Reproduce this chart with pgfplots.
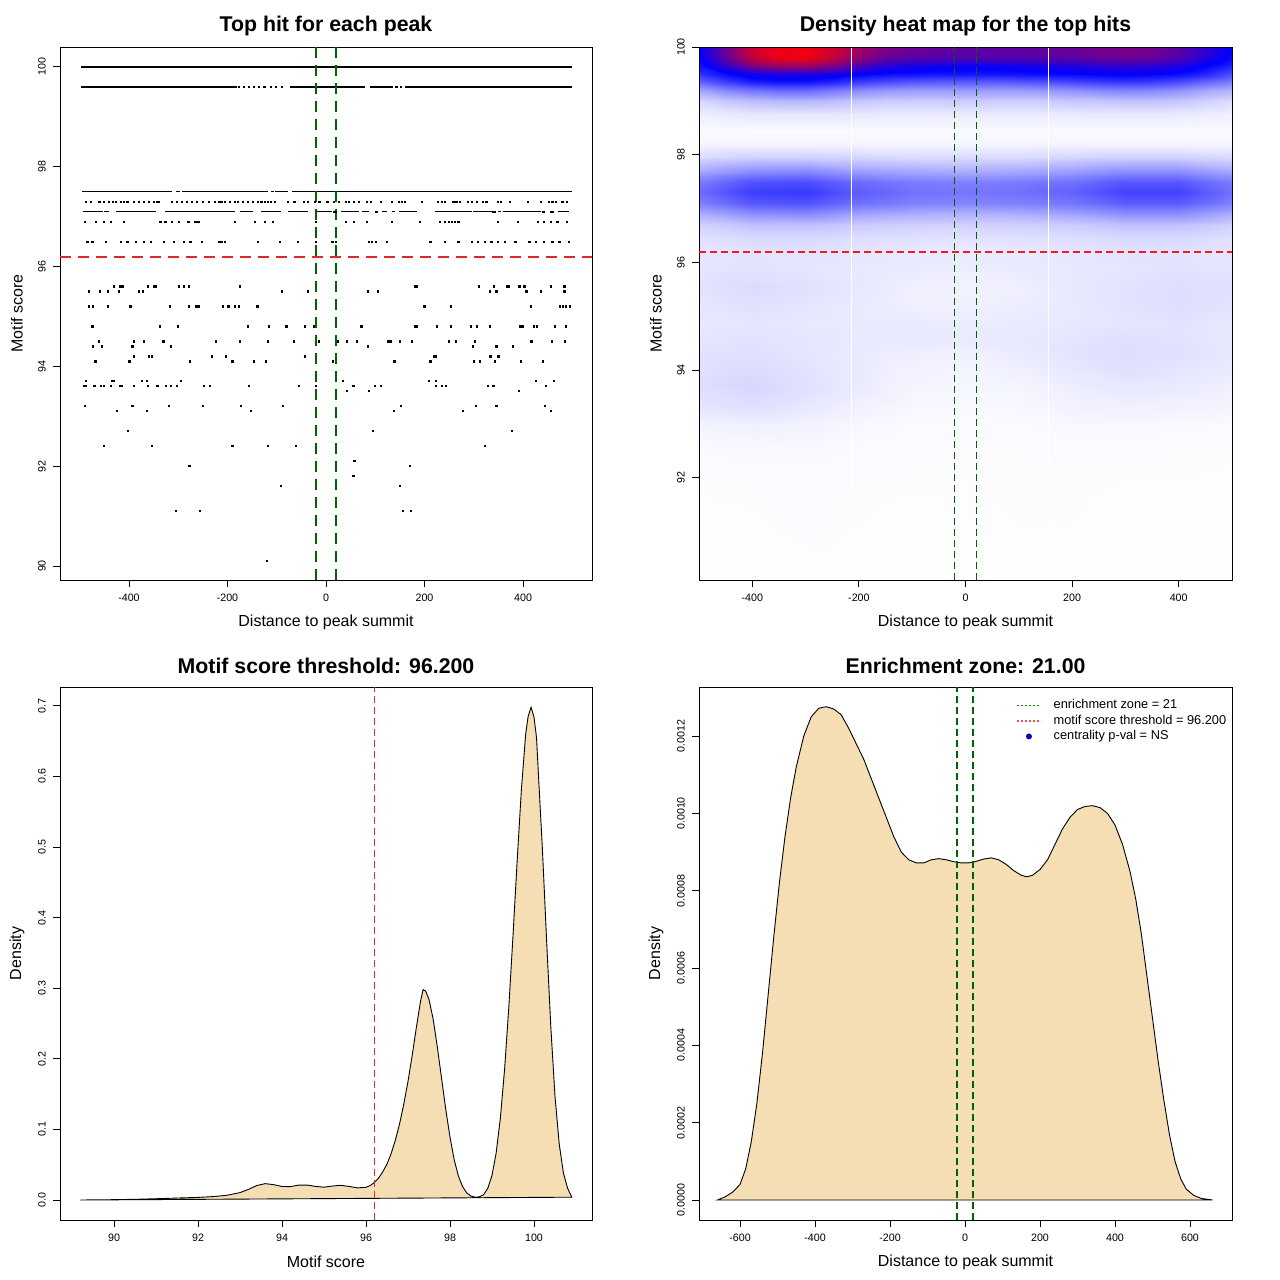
\documentclass[border=0pt]{standalone}
\usepackage{fontspec}
\setmainfont{Liberation Sans}
\usepackage{pgfplots}
\pgfplotsset{compat=1.18}
\definecolor{dgreen}{RGB}{0,100,0}
\definecolor{lgreen}{RGB}{0,140,0}
\definecolor{rred}{RGB}{222,40,40}
\definecolor{hred}{RGB}{238,28,28}
\definecolor{lred}{RGB}{224,44,44}
\definecolor{legred}{RGB}{240,80,80}
\definecolor{wheat}{RGB}{245,222,179}
\pgfplotsset{
 rpanel/.style={
  scale only axis, width=532pt, height=533pt,
  axis line style={draw=black, line width=0.9pt},
  tick align=outside, major tick length=7pt,
  tick style={draw=black, line width=0.9pt},
  tick pos=left,
  ticklabel style={font=\fontsize{10.7}{12}\selectfont},
  /pgf/number format/assume math mode=true,
  xticklabel style={anchor=center, yshift=-11pt},
  yticklabel style={anchor=center, xshift=-11pt, rotate=90},
  every axis x label/.style={at={(axis description cs:0.5,0)}, anchor=center, yshift=-42pt, font=\fontsize{16}{19}\selectfont},
  every axis y label/.style={at={(axis description cs:0,0.5)}, anchor=center, xshift=-43pt, rotate=90, font=\fontsize{16}{19}\selectfont},
  every axis title/.style={at={(axis description cs:0.5,1)}, anchor=center, yshift=21pt, font=\bfseries\fontsize{21.3}{25}\selectfont},
 },
}
\begin{document}
\begin{tikzpicture}[x=1pt,y=1pt]
\useasboundingbox (0,0) rectangle (1280,1280);
% ---------------- top left
\begin{axis}[rpanel, at={(60pt,700pt)}, anchor=south west,
 xmin=-540, xmax=540, ymin=89.72, ymax=100.4,
 xtick={-400,-200,0,200,400}, ytick={90,92,94,96,98,100},
 title={Top hit for each peak}, xlabel={Distance to peak summit}, ylabel={Motif score}]
\addplot[draw=black, line width=1.45pt, unbounded coords=jump] coordinates {
 (-497,100) (500,100)
 (0,nan) (-497,99.6) (-181,99.6) (0,nan) (-73,99.6) (80,99.6) (0,nan) (89,99.6) (136,99.6) (0,nan) (160,99.6) (500,99.6)
 (0,nan) (-495,97.5) (-312,97.5) (0,nan) (-304,97.5) (-296,97.5) (0,nan) (-292,97.5) (-117,97.5) (0,nan) (-112,97.5) (-106,97.5) (0,nan) (-103,97.5) (-77,97.5) (0,nan) (-70,97.5) (500,97.5)
 (0,nan) (-494,97.1) (-453,97.1) (0,nan) (-450,97.1) (-440,97.1) (0,nan) (-427,97.1) (-346,97.1) (0,nan) (-326,97.1) (-185,97.1) (0,nan) (-175,97.1) (-148,97.1) (0,nan) (-131,97.1) (-91,97.1) (0,nan) (-77,97.1) (-37,97.1) (0,nan) (-23,97.1) (13,97.1) (0,nan) (30,97.1) (67,97.1) (0,nan) (74,97.1) (87,97.1) (0,nan) (114,97.1) (124,97.1) (0,nan) (134,97.1) (141,97.1) (0,nan) (148,97.1) (185,97.1) (0,nan) (222,97.1) (296,97.1) (0,nan) (299,97.1) (336,97.1) (0,nan) (349,97.1) (356,97.1) (0,nan) (359,97.1) (437,97.1) (0,nan) (470,97.1) (494,97.1)};
\addplot[only marks, mark=square*, mark size=0.6pt, mark options={draw=black, fill=black, line width=0pt}] coordinates {
 (-177,99.6) (-167,99.6) (-157,99.6) (-146,99.6) (-136,99.6) (-125,99.6) (-111,99.6) (-101,99.6) (-90,99.6) (143,99.6) (153,99.6)
 (17,97.1) (20,97.1) (101,97.1) (104,97.1) (339,97.1) (343,97.1) (440,97.1) (443,97.1) (457,97.1) (460,97.1)
 (-487,97.3) (-477,97.3) (-460,97.3) (-450,97.3) (-440,97.3) (-433,97.3) (-427,97.3) (-416,97.3) (-410,97.3) (-403,97.3) (-390,97.3) (-380,97.3) (-369,97.3) (-359,97.3) (-349,97.3) (-343,97.3) (-339,97.3) (-312,97.3) (-302,97.3) (-292,97.3) (-282,97.3) (-272,97.3) (-262,97.3) (-249,97.3) (-238,97.3) (-225,97.3) (-218,97.3) (-212,97.3) (-205,97.3) (-195,97.3) (-185,97.3) (-178,97.3) (-168,97.3) (-158,97.3) (-148,97.3) (-138,97.3) (-131,97.3) (-124,97.3) (-118,97.3) (-111,97.3) (-104,97.3) (-77,97.3) (-64,97.3) (-44,97.3) (-37,97.3) (-23,97.3) (-13,97.3) (3,97.3) (17,97.3) (27,97.3) (40,97.3) (47,97.3) (57,97.3) (67,97.3) (84,97.3) (91,97.3) (111,97.3) (134,97.3) (148,97.3) (154,97.3) (161,97.3) (195,97.3) (228,97.3) (235,97.3) (242,97.3) (259,97.3) (265,97.3) (272,97.3) (289,97.3) (296,97.3) (306,97.3) (319,97.3) (326,97.3) (349,97.3) (356,97.3) (373,97.3) (410,97.3) (437,97.3) (453,97.3) (460,97.3) (467,97.3) (480,97.3) (490,97.3)
 (-490,96.9) (-467,96.9) (-450,96.9) (-437,96.9) (-410,96.9) (-336,96.9) (-326,96.9) (-312,96.9) (-299,96.9) (-279,96.9) (-265,96.9) (-259,96.9) (-185,96.9) (-144,96.9) (-124,96.9) (-107,96.9) (-20,96.9) (40,96.9) (57,96.9) (84,96.9) (134,96.9) (191,96.9) (232,96.9) (242,96.9) (249,96.9) (255,96.9) (262,96.9) (269,96.9) (349,96.9) (390,96.9) (430,96.9) (443,96.9) (457,96.9) (470,96.9) (490,96.9)
 (-484,96.5) (-474,96.5) (-447,96.5) (-416,96.5) (-403,96.5) (-386,96.5) (-369,96.5) (-356,96.5) (-329,96.5) (-309,96.5) (-289,96.5) (-275,96.5) (-252,96.5) (-218,96.5) (-212,96.5) (-205,96.5) (-138,96.5) (-94,96.5) (-57,96.5) (-20,96.5) (13,96.5) (20,96.5) (87,96.5) (94,96.5) (101,96.5) (124,96.5) (212,96.5) (242,96.5) (269,96.5) (296,96.5) (309,96.5) (322,96.5) (336,96.5) (349,96.5) (363,96.5) (383,96.5) (386,96.5) (413,96.5) (427,96.5) (443,96.5) (460,96.5) (474,96.5) (494,96.5)
 (-431,95.6) (-417,95.6) (-413,95.6) (-362,95.6) (-349,95.6) (-346,95.6) (-299,95.6) (-289,95.6) (-278,95.6) (-174,95.6) (181,95.6) (185,95.6) (310,95.6) (341,95.6) (367,95.6) (371,95.6) (393,95.6) (403,95.6) (456,95.6) (484,95.6)
 (-481,95.5) (-458,95.5) (-442,95.5) (-421,95.5) (-379,95.5) (-372,95.5) (-89,95.5) (-37,95.5) (86,95.5) (106,95.5) (333,95.5) (346,95.5) (407,95.5) (436,95.5) (484,95.5)
 (-481,95.2) (-473,95.2) (-442,95.2) (-397,95.2) (-317,95.2) (-278,95.2) (-263,95.2) (-259,95.2) (-209,95.2) (-198,95.2) (-184,95.2) (-176,95.2) (-139,95.2) (200,95.2) (254,95.2) (416,95.2) (475,95.2) (481,95.2) (487,95.2) (496,95.2)
 (-474,94.8) (-337,94.8) (-301,94.8) (-159,94.8) (-115,94.8) (-80,94.8) (-42,94.8) (-24,94.8) (72,94.8) (181,94.8) (185,94.8) (225,94.8) (253,94.8) (294,94.8) (306,94.8) (333,94.8) (395,94.8) (400,94.8) (423,94.8) (428,94.8) (465,94.8) (487,94.8)
 (-461,94.5) (-390,94.5) (-370,94.5) (-330,94.5) (-223,94.5) (-174,94.5) (-118,94.5) (-65,94.5) (-14,94.5) (24,94.5) (42,94.5) (63,94.5) (127,94.5) (131,94.5) (151,94.5) (174,94.5) (249,94.5) (264,94.5) (303,94.5) (417,94.5) (459,94.5) (485,94.5)
 (-473,94.4) (-454,94.4) (-393,94.4) (-315,94.4) (86,94.4) (299,94.4) (346,94.4) (379,94.4)
 (-390,94.2) (-360,94.2) (-353,94.2) (-231,94.2) (-203,94.2) (-43,94.2) (219,94.2) (224,94.2) (334,94.2) (350,94.2)
 (-468,94.1) (-399,94.1) (-276,94.1) (-190,94.1) (-146,94.1) (-122,94.1) (14,94.1) (139,94.1) (212,94.1) (301,94.1) (312,94.1) (343,94.1) (396,94.1) (440,94.1)
 (-487,93.7) (-435,93.7) (-431,93.7) (-374,93.7) (-363,93.7) (-294,93.7) (35,93.7) (209,93.7) (224,93.7) (426,93.7) (463,93.7)
 (-492,93.6) (-487,93.6) (-470,93.6) (-456,93.6) (-451,93.6) (-437,93.6) (-417,93.6) (-414,93.6) (-390,93.6) (-362,93.6) (-342,93.6) (-325,93.6) (-314,93.6) (-303,93.6) (-248,93.6) (-235,93.6) (-157,93.6) (-54,93.6) (-21,93.6) (56,93.6) (99,93.6) (111,93.6) (223,93.6) (235,93.6) (244,93.6) (329,93.6) (340,93.6) (447,93.6)
 (42,93.5) (87,93.5) (392,93.5)
 (-489,93.2) (-393,93.2) (-319,93.2) (-250,93.2) (-172,93.2) (-87,93.2) (153,93.2) (305,93.2) (346,93.2) (445,93.2)
 (-424,93.1) (-363,93.1) (-152,93.1) (138,93.1) (278,93.1) (456,93.1)
 (-402,92.7) (96,92.7) (377,92.7)
 (-451,92.4) (-353,92.4) (-190,92.4) (-118,92.4) (-61,92.4) (322,92.4)
 (58,92.1) (-277,92.0) (170,92.0) (56,91.8) (-92,91.6) (151,91.6)
 (-304,91.1) (-255,91.1) (156,91.1) (173,91.1) (-120,90.1)};
\addplot[draw=rred, line width=2pt, dash pattern=on 11pt off 7pt] coordinates {(-540,96.2) (540,96.2)};
\addplot[draw=dgreen, line width=2pt, dash pattern=on 11pt off 7pt] coordinates {(-21,89.72) (-21,100.4)};
\addplot[draw=dgreen, line width=2pt, dash pattern=on 11pt off 7pt] coordinates {(21,89.72) (21,100.4)};
\end{axis}
% ---------------- top right
\begin{axis}[rpanel, at={(699pt,700pt)}, anchor=south west, width=533pt, axis on top,
 xmin=-500, xmax=500, ymin=90.1, ymax=100,
 xtick={-400,-200,0,200,400}, ytick={92,94,96,98,100},
 colormap={wbr}{rgb255=(255,255,255) rgb255=(0,0,255) rgb255=(255,0,0)},
 point meta min=0, point meta max=1,
 title={Density heat map for the top hits}, xlabel={Distance to peak summit}, ylabel={Motif score}]
\addplot[surf, shader=interp, mesh/cols=11, point meta=\thisrow{c}] table[row sep=\\] {
x y c\\
-500 90.1 0.001\\ -400 90.1 0.001\\ -300 90.1 0.001\\ -200 90.1 0.001\\ -100 90.1 0.001\\ 0 90.1 0.001\\ 100 90.1 0.001\\ 200 90.1 0.001\\ 300 90.1 0.001\\ 400 90.1 0.001\\ 500 90.1 0.001\\
-500 91.2 0.003\\ -400 91.2 0.004\\ -300 91.2 0.008\\ -200 91.2 0.005\\ -100 91.2 0.003\\ 0 91.2 0.003\\ 100 91.2 0.005\\ 200 91.2 0.005\\ 300 91.2 0.003\\ 400 91.2 0.003\\ 500 91.2 0.002\\
-500 92.0 0.006\\ -400 92.0 0.007\\ -300 92.0 0.008\\ -200 92.0 0.007\\ -100 92.0 0.006\\ 0 92.0 0.005\\ 100 92.0 0.006\\ 200 92.0 0.006\\ 300 92.0 0.005\\ 400 92.0 0.005\\ 500 92.0 0.004\\
-500 92.6 0.012\\ -400 92.6 0.015\\ -300 92.6 0.014\\ -200 92.6 0.010\\ -100 92.6 0.008\\ 0 92.6 0.006\\ 100 92.6 0.007\\ 200 92.6 0.008\\ 300 92.6 0.008\\ 400 92.6 0.007\\ 500 92.6 0.006\\
-500 93.0 0.025\\ -400 93.0 0.030\\ -300 93.0 0.025\\ -200 93.0 0.015\\ -100 93.0 0.010\\ 0 93.0 0.008\\ 100 93.0 0.010\\ 200 93.0 0.015\\ 300 93.0 0.015\\ 400 93.0 0.012\\ 500 93.0 0.010\\
-500 93.3 0.050\\ -400 93.3 0.060\\ -300 93.3 0.045\\ -200 93.3 0.025\\ -100 93.3 0.015\\ 0 93.3 0.012\\ 100 93.3 0.015\\ 200 93.3 0.025\\ 300 93.3 0.030\\ 400 93.3 0.025\\ 500 93.3 0.020\\
-500 93.7 0.065\\ -400 93.7 0.080\\ -300 93.7 0.060\\ -200 93.7 0.040\\ -100 93.7 0.020\\ 0 93.7 0.018\\ 100 93.7 0.020\\ 200 93.7 0.035\\ 300 93.7 0.045\\ 400 93.7 0.040\\ 500 93.7 0.030\\
-500 94.0 0.060\\ -400 94.0 0.070\\ -300 94.0 0.055\\ -200 94.0 0.040\\ -100 94.0 0.025\\ 0 94.0 0.020\\ 100 94.0 0.030\\ 200 94.0 0.045\\ 300 94.0 0.060\\ 400 94.0 0.050\\ 500 94.0 0.040\\
-500 94.35 0.055\\ -400 94.35 0.060\\ -300 94.35 0.050\\ -200 94.35 0.040\\ -100 94.35 0.035\\ 0 94.35 0.030\\ 100 94.35 0.040\\ 200 94.35 0.055\\ 300 94.35 0.065\\ 400 94.35 0.060\\ 500 94.35 0.045\\
-500 94.6 0.050\\ -400 94.6 0.055\\ -300 94.6 0.050\\ -200 94.6 0.045\\ -100 94.6 0.045\\ 0 94.6 0.040\\ 100 94.6 0.045\\ 200 94.6 0.050\\ 300 94.6 0.060\\ 400 94.6 0.055\\ 500 94.6 0.045\\
-500 94.9 0.045\\ -400 94.9 0.050\\ -300 94.9 0.045\\ -200 94.9 0.040\\ -100 94.9 0.040\\ 0 94.9 0.035\\ 100 94.9 0.040\\ 200 94.9 0.045\\ 300 94.9 0.050\\ 400 94.9 0.055\\ 500 94.9 0.045\\
-500 95.2 0.050\\ -400 95.2 0.060\\ -300 95.2 0.050\\ -200 95.2 0.040\\ -100 95.2 0.030\\ 0 95.2 0.030\\ 100 95.2 0.035\\ 200 95.2 0.045\\ 300 95.2 0.055\\ 400 95.2 0.065\\ 500 95.2 0.055\\
-500 95.55 0.055\\ -400 95.55 0.070\\ -300 95.55 0.060\\ -200 95.55 0.045\\ -100 95.55 0.030\\ 0 95.55 0.025\\ 100 95.55 0.030\\ 200 95.55 0.045\\ 300 95.55 0.055\\ 400 95.55 0.065\\ 500 95.55 0.060\\
-500 95.9 0.050\\ -400 95.9 0.055\\ -300 95.9 0.050\\ -200 95.9 0.045\\ -100 95.9 0.040\\ 0 95.9 0.035\\ 100 95.9 0.040\\ 200 95.9 0.045\\ 300 95.9 0.050\\ 400 95.9 0.055\\ 500 95.9 0.050\\
-500 96.2 0.050\\ -400 96.2 0.055\\ -300 96.2 0.055\\ -200 96.2 0.050\\ -100 96.2 0.045\\ 0 96.2 0.040\\ 100 96.2 0.045\\ 200 96.2 0.050\\ 300 96.2 0.055\\ 400 96.2 0.055\\ 500 96.2 0.050\\
-500 96.45 0.060\\ -400 96.45 0.075\\ -300 96.45 0.075\\ -200 96.45 0.065\\ -100 96.45 0.060\\ 0 96.45 0.055\\ 100 96.45 0.060\\ 200 96.45 0.065\\ 300 96.45 0.075\\ 400 96.45 0.075\\ 500 96.45 0.060\\
-500 96.7 0.090\\ -400 96.7 0.120\\ -300 96.7 0.120\\ -200 96.7 0.100\\ -100 96.7 0.090\\ 0 96.7 0.090\\ 100 96.7 0.090\\ 200 96.7 0.100\\ 300 96.7 0.120\\ 400 96.7 0.120\\ 500 96.7 0.090\\
-500 96.9 0.160\\ -400 96.9 0.220\\ -300 96.9 0.230\\ -200 96.9 0.180\\ -100 96.9 0.160\\ 0 96.9 0.150\\ 100 96.9 0.160\\ 200 96.9 0.180\\ 300 96.9 0.220\\ 400 96.9 0.220\\ 500 96.9 0.160\\
-500 97.1 0.250\\ -400 97.1 0.330\\ -300 97.1 0.340\\ -200 97.1 0.280\\ -100 97.1 0.250\\ 0 97.1 0.240\\ 100 97.1 0.250\\ 200 97.1 0.270\\ 300 97.1 0.320\\ 400 97.1 0.320\\ 500 97.1 0.250\\
-500 97.3 0.290\\ -400 97.3 0.380\\ -300 97.3 0.390\\ -200 97.3 0.320\\ -100 97.3 0.280\\ 0 97.3 0.270\\ 100 97.3 0.280\\ 200 97.3 0.310\\ 300 97.3 0.370\\ 400 97.3 0.370\\ 500 97.3 0.280\\
-500 97.5 0.260\\ -400 97.5 0.340\\ -300 97.5 0.350\\ -200 97.5 0.290\\ -100 97.5 0.260\\ 0 97.5 0.250\\ 100 97.5 0.260\\ 200 97.5 0.280\\ 300 97.5 0.330\\ 400 97.5 0.330\\ 500 97.5 0.260\\
-500 97.7 0.170\\ -400 97.7 0.220\\ -300 97.7 0.230\\ -200 97.7 0.190\\ -100 97.7 0.170\\ 0 97.7 0.160\\ 100 97.7 0.170\\ 200 97.7 0.190\\ 300 97.7 0.220\\ 400 97.7 0.220\\ 500 97.7 0.170\\
-500 97.95 0.070\\ -400 97.95 0.090\\ -300 97.95 0.090\\ -200 97.95 0.080\\ -100 97.95 0.070\\ 0 97.95 0.070\\ 100 97.95 0.070\\ 200 97.95 0.080\\ 300 97.95 0.090\\ 400 97.95 0.090\\ 500 97.95 0.070\\
-500 98.2 0.020\\ -400 98.2 0.020\\ -300 98.2 0.020\\ -200 98.2 0.020\\ -100 98.2 0.020\\ 0 98.2 0.020\\ 100 98.2 0.020\\ 200 98.2 0.020\\ 300 98.2 0.020\\ 400 98.2 0.020\\ 500 98.2 0.020\\
-500 98.45 0.010\\ -400 98.45 0.010\\ -300 98.45 0.010\\ -200 98.45 0.010\\ -100 98.45 0.010\\ 0 98.45 0.010\\ 100 98.45 0.010\\ 200 98.45 0.010\\ 300 98.45 0.010\\ 400 98.45 0.010\\ 500 98.45 0.010\\
};
\addplot[surf, shader=interp, mesh/cols=21, point meta=\thisrow{c}] table[row sep=\\] {
x y c\\
-500 98.45 0.01\\ -450 98.45 0.01\\ -400 98.45 0.01\\ -350 98.45 0.01\\ -300 98.45 0.01\\ -250 98.45 0.01\\ -200 98.45 0.01\\ -150 98.45 0.01\\ -100 98.45 0.01\\ -50 98.45 0.01\\ 0 98.45 0.01\\ 50 98.45 0.01\\ 100 98.45 0.01\\ 150 98.45 0.01\\ 200 98.45 0.01\\ 250 98.45 0.01\\ 300 98.45 0.01\\ 350 98.45 0.01\\ 400 98.45 0.01\\ 450 98.45 0.01\\ 500 98.45 0.01\\
-500 98.75 0.035\\ -450 98.75 0.04\\ -400 98.75 0.05\\ -350 98.75 0.05\\ -300 98.75 0.05\\ -250 98.75 0.05\\ -200 98.75 0.045\\ -150 98.75 0.04\\ -100 98.75 0.04\\ -50 98.75 0.04\\ 0 98.75 0.04\\ 50 98.75 0.04\\ 100 98.75 0.04\\ 150 98.75 0.04\\ 200 98.75 0.04\\ 250 98.75 0.045\\ 300 98.75 0.045\\ 350 98.75 0.045\\ 400 98.75 0.04\\ 450 98.75 0.035\\ 500 98.75 0.03\\
-500 99.0 0.08\\ -450 99.0 0.11\\ -400 99.0 0.13\\ -350 99.0 0.14\\ -300 99.0 0.14\\ -250 99.0 0.13\\ -200 99.0 0.11\\ -150 99.0 0.10\\ -100 99.0 0.10\\ -50 99.0 0.10\\ 0 99.0 0.10\\ 50 99.0 0.10\\ 100 99.0 0.10\\ 150 99.0 0.10\\ 200 99.0 0.11\\ 250 99.0 0.11\\ 300 99.0 0.12\\ 350 99.0 0.12\\ 400 99.0 0.11\\ 450 99.0 0.09\\ 500 99.0 0.07\\
-500 99.2 0.18\\ -450 99.2 0.24\\ -400 99.2 0.28\\ -350 99.2 0.30\\ -300 99.2 0.30\\ -250 99.2 0.27\\ -200 99.2 0.23\\ -150 99.2 0.21\\ -100 99.2 0.20\\ -50 99.2 0.20\\ 0 99.2 0.20\\ 50 99.2 0.20\\ 100 99.2 0.20\\ 150 99.2 0.21\\ 200 99.2 0.22\\ 250 99.2 0.24\\ 300 99.2 0.25\\ 350 99.2 0.24\\ 400 99.2 0.22\\ 450 99.2 0.18\\ 500 99.2 0.15\\
-500 99.35 0.30\\ -450 99.35 0.38\\ -400 99.35 0.44\\ -350 99.35 0.46\\ -300 99.35 0.46\\ -250 99.35 0.43\\ -200 99.35 0.38\\ -150 99.35 0.35\\ -100 99.35 0.33\\ -50 99.35 0.32\\ 0 99.35 0.32\\ 50 99.35 0.32\\ 100 99.35 0.33\\ 150 99.35 0.34\\ 200 99.35 0.36\\ 250 99.35 0.38\\ 300 99.35 0.39\\ 350 99.35 0.38\\ 400 99.35 0.35\\ 450 99.35 0.30\\ 500 99.35 0.25\\
-500 99.5 0.40\\ -450 99.5 0.48\\ -400 99.5 0.54\\ -350 99.5 0.56\\ -300 99.5 0.56\\ -250 99.5 0.54\\ -200 99.5 0.50\\ -150 99.5 0.48\\ -100 99.5 0.47\\ -50 99.5 0.46\\ 0 99.5 0.46\\ 50 99.5 0.46\\ 100 99.5 0.47\\ 150 99.5 0.48\\ 200 99.5 0.49\\ 250 99.5 0.50\\ 300 99.5 0.51\\ 350 99.5 0.50\\ 400 99.5 0.48\\ 450 99.5 0.43\\ 500 99.5 0.35\\
-500 99.65 0.46\\ -450 99.65 0.60\\ -400 99.65 0.74\\ -350 99.65 0.80\\ -300 99.65 0.80\\ -250 99.65 0.74\\ -200 99.65 0.64\\ -150 99.65 0.57\\ -100 99.65 0.54\\ -50 99.65 0.53\\ 0 99.65 0.52\\ 50 99.65 0.52\\ 100 99.65 0.53\\ 150 99.65 0.54\\ 200 99.65 0.56\\ 250 99.65 0.58\\ 300 99.65 0.59\\ 350 99.65 0.58\\ 400 99.65 0.55\\ 450 99.65 0.50\\ 500 99.65 0.43\\
-500 99.8 0.49\\ -450 99.8 0.70\\ -400 99.8 0.88\\ -350 99.8 0.96\\ -300 99.8 0.96\\ -250 99.8 0.89\\ -200 99.8 0.78\\ -150 99.8 0.70\\ -100 99.8 0.67\\ -50 99.8 0.66\\ 0 99.8 0.66\\ 50 99.8 0.66\\ 100 99.8 0.66\\ 150 99.8 0.67\\ 200 99.8 0.68\\ 250 99.8 0.70\\ 300 99.8 0.71\\ 350 99.8 0.70\\ 400 99.8 0.65\\ 450 99.8 0.57\\ 500 99.8 0.48\\
-500 100 0.50\\ -450 100 0.72\\ -400 100 0.90\\ -350 100 0.97\\ -300 100 0.98\\ -250 100 0.92\\ -200 100 0.82\\ -150 100 0.75\\ -100 100 0.72\\ -50 100 0.70\\ 0 100 0.69\\ 50 100 0.69\\ 100 100 0.69\\ 150 100 0.70\\ 200 100 0.71\\ 250 100 0.73\\ 300 100 0.74\\ 350 100 0.73\\ 400 100 0.68\\ 450 100 0.60\\ 500 100 0.50\\
};
\addplot[draw=white, line width=0.8pt] coordinates {(-214,90.1) (-214,100)};
\addplot[draw=white, line width=0.8pt] coordinates {(156,90.1) (156,100)};
\end{axis}
% overlay axis for the threshold lines of the heat map (same geometry and limits)
\begin{axis}[scale only axis, width=533pt, height=533pt, at={(699pt,700pt)}, anchor=south west,
 xmin=-500, xmax=500, ymin=90.1, ymax=100, hide axis]
\addplot[draw=hred, line width=2pt, dash pattern=on 7pt off 4pt] coordinates {(-500,96.2) (500,96.2)};
\addplot[draw=dgreen, line width=1.4pt, dash pattern=on 7pt off 4pt] coordinates {(-21,90.1) (-21,100)};
\addplot[draw=dgreen, line width=1.4pt, dash pattern=on 7pt off 4pt] coordinates {(21,90.1) (21,100)};
\end{axis}
% ---------------- bottom left
\begin{axis}[rpanel, at={(60pt,60pt)}, anchor=south west,
 xmin=88.714, xmax=101.381, ymin=-0.0283, ymax=0.7267,
 xtick={90,92,94,96,98,100}, ytick={0,0.1,0.2,0.3,0.4,0.5,0.6,0.7},
 scaled y ticks=false,
 yticklabel style={/pgf/number format/.cd, fixed, fixed zerofill, precision=1},
 title={Motif score threshold: 96.200}, xlabel={Motif score}, ylabel={Density}]
\addplot[draw=black, fill=wheat, line width=0.9pt] coordinates {
(89.2,0) (89.5,0.0002) (90,0.0005) (90.5,0.001) (91,0.0018) (91.5,0.0028) (92,0.0037) (92.4,0.005) (92.7,0.0068) (93,0.0105) (93.2,0.015) (93.4,0.0205) (93.6,0.0232) (93.8,0.0218) (94,0.0192) (94.2,0.019) (94.4,0.0212) (94.6,0.0212) (94.8,0.0193) (95,0.0182) (95.2,0.0198) (95.4,0.0208) (95.6,0.0192) (95.8,0.0172) (96,0.018) (96.1,0.0205) (96.2,0.025) (96.3,0.031) (96.4,0.04) (96.5,0.051) (96.6,0.066) (96.7,0.085) (96.8,0.108) (96.9,0.136) (97,0.168) (97.1,0.205) (97.2,0.245) (97.3,0.282) (97.36,0.298) (97.42,0.296) (97.5,0.284) (97.6,0.256) (97.7,0.216) (97.8,0.172) (97.9,0.128) (98,0.089) (98.1,0.057) (98.2,0.034) (98.3,0.019) (98.4,0.01) (98.5,0.0055) (98.6,0.004) (98.7,0.0045) (98.8,0.0075) (98.9,0.0167) (99,0.035) (99.1,0.067) (99.2,0.1165) (99.3,0.1855) (99.4,0.273) (99.5,0.3745) (99.6,0.4815) (99.7,0.5817) (99.8,0.659) (99.86,0.685) (99.93,0.698) (100,0.684) (100.06,0.655) (100.1,0.609) (100.2,0.497) (100.3,0.368) (100.4,0.2455) (100.5,0.147) (100.6,0.0795) (100.7,0.0384) (100.8,0.0166) (100.9,0.004)} -- cycle;
\addplot[draw=lred, line width=1.2pt, dash pattern=on 7pt off 4pt] coordinates {(96.2,-0.0283) (96.2,0.7267)};
\end{axis}
% ---------------- bottom right
\begin{axis}[rpanel, at={(699pt,60pt)}, anchor=south west, width=533pt,
 xmin=-709.3, xmax=712, ymin=-0.0000517, ymax=0.001327,
 xtick={-600,-400,-200,0,200,400,600}, ytick={0,0.0002,0.0004,0.0006,0.0008,0.001,0.0012},
 scaled y ticks=false,
 yticklabel style={/pgf/number format/.cd, fixed, fixed zerofill, precision=4},
 title={Enrichment zone: 21.00}, xlabel={Distance to peak summit}, ylabel={Density},
 legend style={draw=none, fill=none, at={(axis description cs:0.5947,0.9775)}, anchor=north west, inner sep=0pt, row sep=3pt, font=\fontsize{12.8}{15}\selectfont, nodes={inner sep=0pt, text height=9.5pt, text depth=3pt}, cells={anchor=west}, /tikz/every odd column/.append style={column sep=12pt}}]
\addlegendimage{legend image code/.code={\draw[draw=lgreen, line width=1.5pt, dash pattern=on 1.8pt off 2.2pt] (0pt,0pt) -- (24pt,0pt);}}
\addlegendentry{enrichment zone = 21}
\addlegendimage{legend image code/.code={\draw[draw=legred, line width=1.5pt, dash pattern=on 1.8pt off 2.2pt] (0pt,0pt) -- (24pt,0pt);}}
\addlegendentry{motif score threshold = 96.200}
\addlegendimage{legend image code/.code={\path[fill=blue] (12pt,0pt) circle (2.7pt);}}
\addlegendentry{centrality p-val = NS}
\addplot[forget plot, draw=black, fill=wheat, line width=0.9pt] coordinates {
(-660,0) (-640,0.000008) (-620,0.00002) (-600,0.00004) (-585,0.00008) (-570,0.00015) (-555,0.00025) (-540,0.00038) (-525,0.00053) (-510,0.00068) (-495,0.00082) (-480,0.00094) (-465,0.00104) (-450,0.00112) (-430,0.0012) (-410,0.00125) (-390,0.001272) (-370,0.001276) (-350,0.00127) (-330,0.001255) (-310,0.00122) (-290,0.00118) (-270,0.00114) (-250,0.00109) (-230,0.00104) (-210,0.00099) (-190,0.00094) (-170,0.0009) (-150,0.00088) (-130,0.000872) (-110,0.000872) (-90,0.00088) (-70,0.000883) (-50,0.00088) (-30,0.000875) (-10,0.000872) (10,0.000872) (30,0.000876) (50,0.000882) (70,0.000885) (90,0.00088) (110,0.000868) (130,0.000852) (150,0.00084) (165,0.000836) (180,0.00084) (200,0.000855) (220,0.00088) (240,0.00092) (260,0.00096) (280,0.00099) (300,0.00101) (320,0.001018) (340,0.00102) (360,0.001015) (380,0.001) (400,0.00097) (420,0.00092) (440,0.00085) (455,0.00078) (470,0.00069) (485,0.00058) (500,0.00047) (515,0.00036) (530,0.00026) (545,0.00017) (560,0.0001) (575,0.000055) (590,0.000028) (610,0.000012) (630,0.000004) (660,0)} -- cycle;
\addplot[forget plot, draw=dgreen, line width=1.3pt, dash pattern=on 7pt off 4pt] coordinates {(21,-0.0000517) (21,0.001327)};
\addplot[forget plot, draw=dgreen, line width=1.3pt, dash pattern=on 7pt off 4pt] coordinates {(-21,-0.0000517) (-21,0.001327)};
\end{axis}
\end{tikzpicture}
\end{document}
